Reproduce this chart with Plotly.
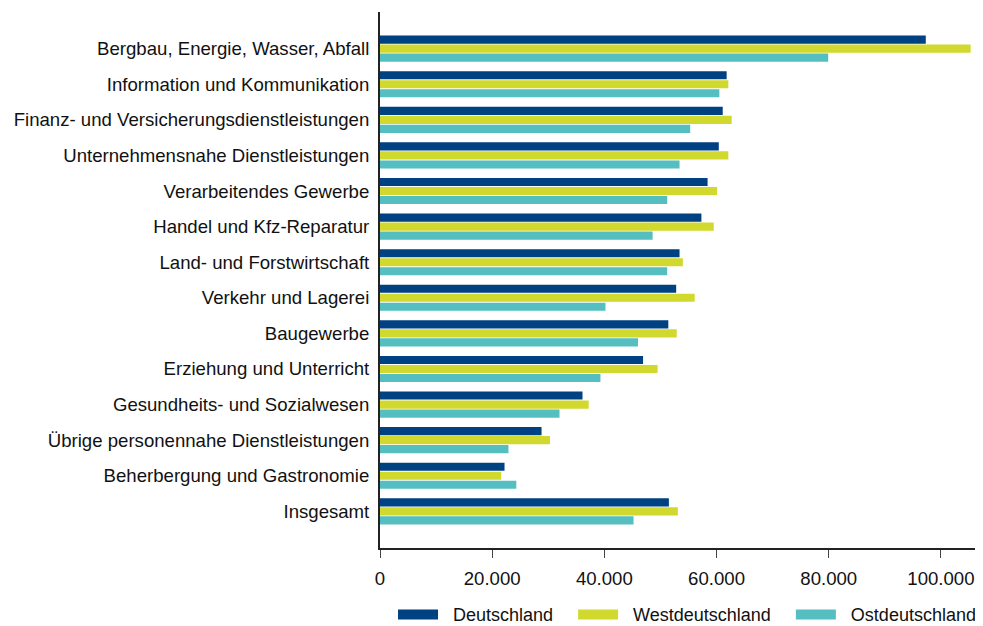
import plotly.graph_objects as go

branchen = [
    "Bergbau, Energie, Wasser, Abfall",
    "Information und Kommunikation",
    "Finanz- und Versicherungsdienstleistungen",
    "Unternehmensnahe Dienstleistungen",
    "Verarbeitendes Gewerbe",
    "Handel und Kfz-Reparatur",
    "Land- und Forstwirtschaft",
    "Verkehr und Lagerei",
    "Baugewerbe",
    "Erziehung und Unterricht",
    "Gesundheits- und Sozialwesen",
    "Übrige personennahe Dienstleistungen",
    "Beherbergung und Gastronomie",
    "Insgesamt",
]

deutschland = [97300, 61800, 61100, 60400, 58400, 57300, 53400, 52800, 51400, 46900, 36100, 28800, 22200, 51500]
west = [105300, 62100, 62700, 62100, 60100, 59500, 54000, 56100, 52900, 49500, 37200, 30300, 21600, 53100]
ost = [79900, 60500, 55300, 53400, 51200, 48600, 51200, 40200, 46000, 39300, 32000, 22900, 24300, 45200]

tick_vals = [0, 20000, 40000, 60000, 80000, 100000]

serien = [("Deutschland", deutschland, "#004182"),
          ("Westdeutschland", west, "#d2d92e"),
          ("Ostdeutschland", ost, "#55bec0")]

nb = "\u00a0"
legend_namen = [nb * 2 + "Deutschland" + nb * 3,
                nb * 2 + "Westdeutschland" + nb * 3,
                nb * 2 + "Ostdeutschland"]

fig = go.Figure()
for name, vals, col in serien:
    fig.add_trace(go.Bar(y=branchen, x=vals, name=name, orientation="h",
                         marker=dict(color=col, line=dict(width=0)),
                         showlegend=False))
# legend entries with wide rectangular keys
for (name, vals, col), lname in zip(serien, legend_namen):
    fig.add_trace(go.Scatter(x=[None], y=[None], mode="lines", name=lname,
                             line=dict(color=col, width=13)))

# page body has an 8px margin, so the figure is a bit smaller than the window
fig.update_layout(
    width=975, height=618,
    margin=dict(l=372, r=0, t=4, b=78, autoexpand=False),
    barmode="group", bargap=0.24, bargroupgap=0.1,
    plot_bgcolor="white", paper_bgcolor="white",
    font=dict(family="Liberation Sans, Arial", size=18.6, color="#111111"),
    separators=",.",
    legend=dict(orientation="h", x=0.0216, xanchor="left", y=-0.09, yanchor="top",
                font=dict(size=18), itemwidth=40, traceorder="normal"),
)
fig.update_xaxes(range=[0, 107500], tickvals=tick_vals, tickformat=",.0f",
                 showgrid=False, zeroline=False, showline=True, linecolor="#222",
                 linewidth=1.5, ticks="outside", ticklen=8, tickcolor="#444",
                 ticklabelstandoff=5, automargin=False)
fig.update_yaxes(autorange=False, range=[14.03, -1.03], showgrid=False,
                 showline=True, linecolor="#222", linewidth=2, ticks="",
                 ticklabelstandoff=5, automargin=False)

fig.write_html("out.html")
